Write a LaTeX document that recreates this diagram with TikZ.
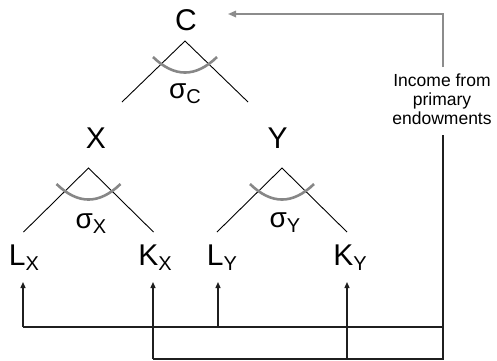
\documentclass[tikz,border=0pt]{standalone}
\usepackage{fontspec}
\setmainfont{Liberation Sans}
\usetikzlibrary{arrows.meta,calc}
% lowered subscript letter
\newcommand\subl[1]{\raisebox{-5pt}{\fontsize{20}{20}\selectfont #1}}
\begin{document}
\begin{tikzpicture}[x=1pt,y=-1pt,
  lbl/.style={inner sep=0pt, anchor=base, font=\fontsize{30}{30}\selectfont},
  sig/.style={inner sep=0pt, anchor=base, font=\fontsize{28}{28}\selectfont},
  arm/.style={draw=black, line width=0.9pt},
  elas/.style={draw=black!47, line width=2.6pt},
  feed/.style={draw=black!88, line width=1.3pt},
  up/.style={feed, -{Triangle[length=6pt,width=5pt]}},
  back/.style={draw=black!45, line width=1.6pt, -{Triangle[length=8pt,width=6.5pt]}},
]
\useasboundingbox (0,0) rectangle (497,360);

% goods and factors
\node[lbl] (C)  at (186,30)    {C};
\node[lbl] (X)  at (96,148.3)  {X};
\node[lbl] (Y)  at (277.5,148.3) {Y};
\node[lbl] (LX) at (24,265)  {L\subl{X}};
\node[lbl] (KX) at (155,265) {K\subl{X}};
\node[lbl] (LY) at (222,265) {L\subl{Y}};
\node[lbl] (KY) at (350,265) {K\subl{Y}};

% elasticities of substitution
\node[sig] (sC) at (185,98)  {σ\subl{C}};
\node[sig] (sX) at (91,228)  {σ\subl{X}};
\node[sig] (sY) at (285,227) {σ\subl{Y}};

% income box
\node[inner sep=0pt, align=center, font=\fontsize{17.5}{19}\selectfont]
  (inc) at (442,99) {Income from\\primary\\endowments};

% nesting trees: apex and arm ends
\coordinate (aC) at (185,41);
\coordinate (aX) at (88.5,168);
\coordinate (aY) at (282,168);
\foreach \a/\dx/\dy in {aC/63/61, aX/65/64, aY/65/64}{
  \coordinate (\a l) at ($(\a)+(-\dx,\dy)$);
  \coordinate (\a r) at ($(\a)+(\dx,\dy)$);
  \draw[arm] (\a l) -- (\a) -- (\a r);
  \draw[elas] ($(\a)+(-32,16)$) .. controls ($(\a)+(-10.7,36.7)$) and ($(\a)+(10.7,36.7)$) .. ($(\a)+(32,16)$);
}

% factor supply network
\coordinate (incT) at (443,67);
\coordinate (incB) at (443,135);
\coordinate (jT)   at (443,327);
\coordinate (bLX) at (23,327);
\coordinate (bLY) at (218,327);
\coordinate (bKX) at (153,359);
\coordinate (bKY) at (347,359);
\coordinate (tLX) at (23,282);
\coordinate (tLY) at (218,282);
\coordinate (tKX) at (153,282);
\coordinate (tKY) at (347,282);
\coordinate (cIn) at (228,14);

\draw[feed] (incB) |- (bKX);
\draw[feed] (bLX) -- (jT);
\draw[up] (bLX) -- (tLX);
\draw[up] (bLY) -- (tLY);
\draw[up] (bKX) -- (tKX);
\draw[up] (bKY) -- (tKY);

% income returned to consumption
\draw[back] (incT) |- (cIn);
\end{tikzpicture}
\end{document}
